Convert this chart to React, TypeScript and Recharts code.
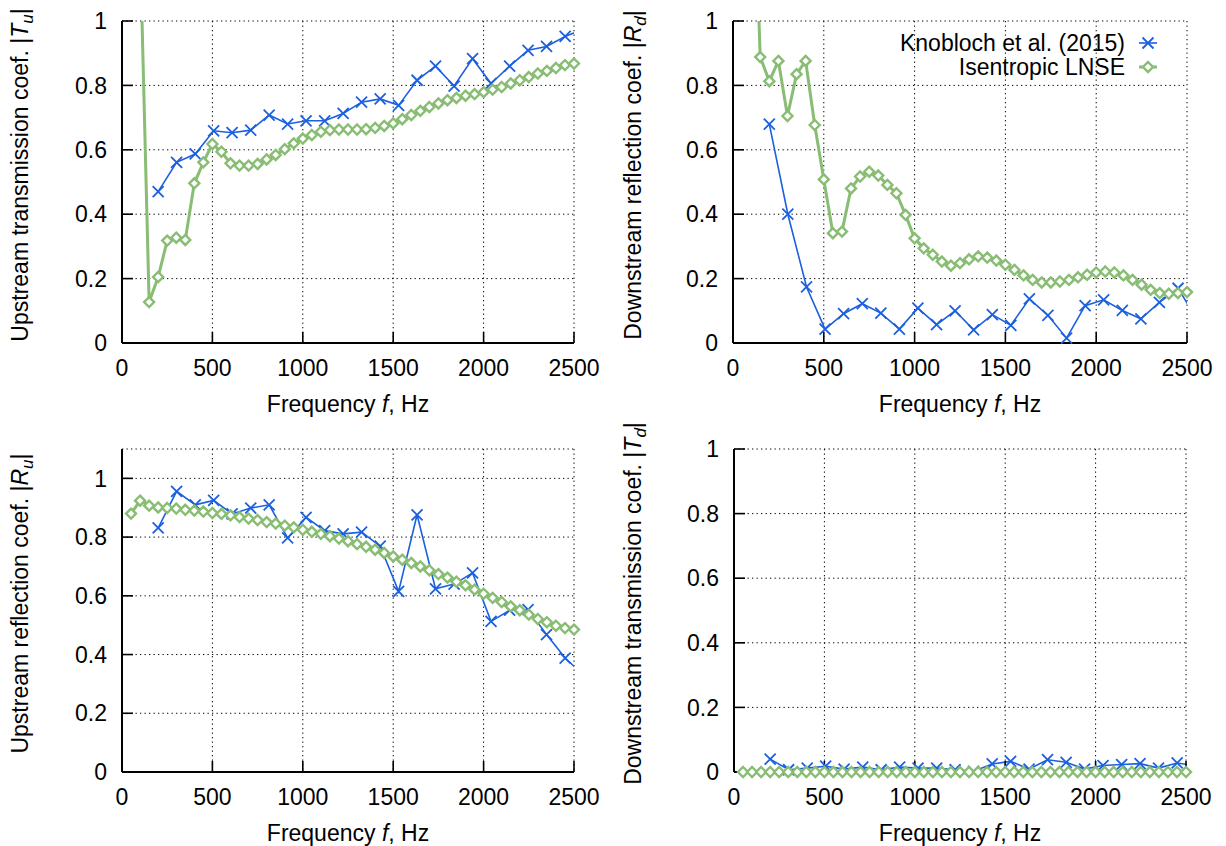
import React from 'react';
import { LineChart, Line, XAxis, YAxis, CartesianGrid, Legend } from 'recharts';

// LNSE solution, every 50 Hz
const lnseFreq = [
  50, 100, 150, 200, 250, 300, 350, 400, 450, 500,
  550, 600, 650, 700, 750, 800, 850, 900, 950, 1000,
  1050, 1100, 1150, 1200, 1250, 1300, 1350, 1400, 1450, 1500,
  1550, 1600, 1650, 1700, 1750, 1800, 1850, 1900, 1950, 2000,
  2050, 2100, 2150, 2200, 2250, 2300, 2350, 2400, 2450, 2500,
];

// measured frequencies (Knobloch et al. 2015), last one sits past the axis end
const knoblochFreq = [
  200, 302, 405, 507, 609, 712, 814, 916, 1018, 1121, 1223, 1325,
  1428, 1530, 1632, 1734, 1837, 1939, 2041, 2144, 2246, 2348, 2451, 2553,
];

// |T_u|
const tuKnobloch = [
  0.47, 0.561, 0.587, 0.659, 0.653, 0.661, 0.708, 0.68, 0.69, 0.69, 0.713, 0.748,
  0.758, 0.738, 0.816, 0.86, 0.798, 0.883, 0.806, 0.86, 0.909, 0.921, 0.952, 0.975,
];
const tuLnse = [
  1.45, 1.24, 0.127, 0.205, 0.318, 0.327, 0.32, 0.496, 0.561, 0.618,
  0.594, 0.558, 0.551, 0.551, 0.556, 0.57, 0.584, 0.602, 0.62, 0.635,
  0.646, 0.656, 0.661, 0.663, 0.663, 0.663, 0.664, 0.668, 0.674, 0.682,
  0.695, 0.708, 0.721, 0.733, 0.744, 0.754, 0.761, 0.768, 0.773, 0.779,
  0.787, 0.795, 0.806, 0.816, 0.826, 0.837, 0.845, 0.854, 0.863, 0.868,
];

// |R_d|
const rdKnobloch = [
  0.68, 0.4, 0.174, 0.043, 0.091, 0.122, 0.093, 0.043, 0.108, 0.057, 0.1, 0.041,
  0.088, 0.055, 0.137, 0.086, 0.015, 0.116, 0.134, 0.101, 0.075, 0.126, 0.17, 0.075,
];
const rdLnse = [
  1.9, 1.69, 0.888, 0.813, 0.876, 0.705, 0.835, 0.876, 0.677, 0.508,
  0.341, 0.346, 0.48, 0.517, 0.532, 0.52, 0.491, 0.465, 0.398, 0.325,
  0.294, 0.274, 0.253, 0.24, 0.248, 0.26, 0.269, 0.265, 0.256, 0.243,
  0.227, 0.21, 0.196, 0.188, 0.188, 0.191, 0.196, 0.204, 0.212, 0.219,
  0.222, 0.219, 0.21, 0.196, 0.181, 0.165, 0.155, 0.153, 0.155, 0.158,
];

// |R_u|
const ruKnobloch = [
  0.831, 0.956, 0.91, 0.925, 0.879, 0.899, 0.91, 0.797, 0.867, 0.822, 0.811, 0.817,
  0.769, 0.615, 0.876, 0.624, 0.64, 0.678, 0.513, 0.551, 0.553, 0.468, 0.388, 0.33,
];
const ruLnse = [
  0.88, 0.924, 0.907, 0.901, 0.899, 0.897, 0.893, 0.89, 0.887, 0.882,
  0.879, 0.874, 0.868, 0.863, 0.858, 0.851, 0.846, 0.839, 0.833, 0.825,
  0.818, 0.811, 0.803, 0.795, 0.786, 0.776, 0.767, 0.757, 0.746, 0.734,
  0.723, 0.712, 0.7, 0.687, 0.674, 0.662, 0.648, 0.636, 0.621, 0.607,
  0.593, 0.579, 0.564, 0.551, 0.536, 0.521, 0.51, 0.498, 0.49, 0.485,
];

// |T_d|
const tdKnobloch = [
  0.04, 0.007, 0.012, 0.018, 0.009, 0.015, 0.007, 0.015, 0.012, 0.012, 0.007, 0.002,
  0.025, 0.033, 0.009, 0.038, 0.03, 0.009, 0.02, 0.023, 0.026, 0.012, 0.028, 0.02,
];
const tdLnse = [
  0, 0, 0, 0, 0, 0, 0, 0, 0, 0,
  0, 0, 0, 0, 0, 0, 0, 0, 0, 0,
  0, 0, 0, 0, 0, 0, 0, 0, 0, 0,
  0, 0, 0, 0, 0, 0, 0, 0, 0, 0,
  0, 0, 0, 0, 0, 0, 0, 0, 0, 0,
];

const xTicks = [0, 500, 1000, 1500, 2000, 2500];
const yTicks = [0, 0.2, 0.4, 0.6, 0.8, 1];

const BLUE = '#1b60de';
const GREEN = '#88bd73';
const FONT = '"Liberation Sans", Arial, Helvetica, sans-serif';
const F_MAX = 2500;

type Row = { f: number; v: number };
const pair = (fs: number[], vs: number[]): Row[] => fs.map((f, i) => ({ f, v: vs[i] }));

function crossDot(props: any) {
  const { cx, cy, index } = props;
  if (cx == null || cy == null) return <g key={`c-${index}`} />;
  const s = 5.5;
  return (
    <path
      key={`c-${index}`}
      d={`M${cx - s},${cy - s}L${cx + s},${cy + s}M${cx - s},${cy + s}L${cx + s},${cy - s}`}
      stroke={BLUE}
      strokeWidth={1.8}
      fill="none"
    />
  );
}

function diamondDot(props: any) {
  const { cx, cy, index } = props;
  if (cx == null || cy == null) return <g key={`d-${index}`} />;
  const s = 5;
  return (
    <path
      key={`d-${index}`}
      d={`M${cx},${cy - s}L${cx + s},${cy}L${cx},${cy + s}L${cx - s},${cy}Z`}
      stroke={GREEN}
      strokeWidth={2.4}
      fill="#fff"
    />
  );
}

function YTitle(props: any) {
  const { viewBox, text, sym, sub } = props;
  const x = 28;
  const y = viewBox.y + viewBox.height / 2 - 7;
  return (
    <text
      x={x}
      y={y}
      transform={`rotate(-90 ${x} ${y})`}
      textAnchor="middle"
      fontSize={23}
      fill="#000"
      fontFamily={FONT}
    >
      {text} |<tspan fontStyle="italic">{sym}</tspan>
      <tspan fontStyle="italic" fontSize={17} dy={5}>{sub}</tspan>
      <tspan dy={-5}>|</tspan>
    </text>
  );
}

function XTitle(props: any) {
  const { viewBox } = props;
  return (
    <text
      x={viewBox.x + viewBox.width / 2}
      y={viewBox.y + 69}
      textAnchor="middle"
      fontSize={23}
      fill="#000"
      fontFamily={FONT}
    >
      Frequency <tspan fontStyle="italic">f</tspan>, Hz
    </text>
  );
}

function LegendBox() {
  const row = (label: string, kind: 'cross' | 'diamond') => (
    <div
      key={label}
      style={{ display: 'flex', justifyContent: 'flex-end', alignItems: 'center', height: 24 }}
    >
      <span style={{ fontSize: 23, lineHeight: '24px', color: '#000', fontFamily: FONT, whiteSpace: 'nowrap' }}>
        {label}
      </span>
      <svg width={46} height={24} style={{ display: 'block' }}>
        {kind === 'cross' ? (
          <g>
            <line x1={14} y1={12} x2={32} y2={12} stroke={BLUE} strokeWidth={1.6} />
            {crossDot({ cx: 23, cy: 12, index: 'leg' })}
          </g>
        ) : (
          <g>
            <line x1={14} y1={12} x2={32} y2={12} stroke={GREEN} strokeWidth={3} />
            {diamondDot({ cx: 23, cy: 12, index: 'leg' })}
          </g>
        )}
      </svg>
    </div>
  );
  return (
    <div>
      {row('Knobloch et al. (2015)', 'cross')}
      {row('Isentropic LNSE', 'diamond')}
    </div>
  );
}

interface PanelProps {
  left: number;
  top: number;
  axisWidth: number;
  marginTop: number;
  marginRight: number;
  xAxisHeight: number;
  yMax: number;
  knob: number[];
  lnse: number[];
  text: string;
  sym: string;
  sub: string;
  legend?: boolean;
}

function Panel(p: PanelProps) {
  const knobRows = pair(knoblochFreq, p.knob);
  const lnseRows = pair(lnseFreq, p.lnse);
  const inRange = (r: Row) => r.f <= F_MAX && r.v <= p.yMax;
  const axisLine = { stroke: '#000', strokeWidth: 2 };
  const tickLine = { stroke: '#000', strokeWidth: 1.6 };
  const tickFont = { fill: '#000', fontSize: 23, fontFamily: FONT };

  return (
    <div style={{ position: 'absolute', left: p.left, top: p.top }}>
      <LineChart
        width={613}
        height={423}
        margin={{ top: p.marginTop, right: p.marginRight, bottom: 0, left: 0 }}
        style={{ fontFamily: FONT }}
      >
        <CartesianGrid stroke="#000" strokeWidth={1} strokeDasharray="1.3 3.2" />
        <XAxis
          dataKey="f"
          type="number"
          domain={[0, F_MAX]}
          allowDataOverflow
          ticks={xTicks}
          interval={0}
          height={p.xAxisHeight}
          tickSize={-11}
          tickMargin={28}
          axisLine={axisLine}
          tickLine={tickLine}
          tick={tickFont}
          label={<XTitle />}
        />
        <XAxis
          xAxisId="top"
          orientation="top"
          dataKey="f"
          type="number"
          domain={[0, F_MAX]}
          allowDataOverflow
          ticks={xTicks}
          interval={0}
          height={0}
          tickSize={-11}
          axisLine={axisLine}
          tickLine={tickLine}
          tick={() => <g />}
        />
        <XAxis xAxisId="pts" dataKey="f" type="number" domain={[0, F_MAX]} hide />
        <YAxis
          type="number"
          domain={[0, p.yMax]}
          allowDataOverflow
          ticks={yTicks}
          interval={0}
          width={p.axisWidth}
          tickSize={-11}
          tickMargin={26}
          axisLine={axisLine}
          tickLine={tickLine}
          tick={tickFont}
          label={<YTitle text={p.text} sym={p.sym} sub={p.sub} />}
        />
        <YAxis
          yAxisId="right"
          orientation="right"
          type="number"
          domain={[0, p.yMax]}
          allowDataOverflow
          ticks={yTicks}
          interval={0}
          width={0}
          tickSize={-11}
          axisLine={axisLine}
          tickLine={tickLine}
          tick={() => <g />}
        />
        <YAxis yAxisId="pts" type="number" domain={[0, p.yMax]} hide />

        <Line
          data={knobRows}
          dataKey="v"
          name="Knobloch et al. (2015)"
          type="linear"
          stroke={BLUE}
          strokeWidth={1.6}
          dot={false}
          activeDot={false}
          isAnimationActive={false}
        />
        <Line
          data={knobRows.filter(inRange)}
          dataKey="v"
          xAxisId="pts"
          yAxisId="pts"
          type="linear"
          stroke="none"
          dot={crossDot}
          activeDot={false}
          legendType="none"
          isAnimationActive={false}
        />
        <Line
          data={lnseRows}
          dataKey="v"
          name="Isentropic LNSE"
          type="linear"
          stroke={GREEN}
          strokeWidth={3}
          dot={false}
          activeDot={false}
          isAnimationActive={false}
        />
        <Line
          data={lnseRows.filter(inRange)}
          dataKey="v"
          xAxisId="pts"
          yAxisId="pts"
          type="linear"
          stroke="none"
          dot={diamondDot}
          activeDot={false}
          legendType="none"
          isAnimationActive={false}
        />
        {p.legend && (
          <Legend
            layout="vertical"
            align="center"
            verticalAlign="middle"
            content={() => <LegendBox />}
            wrapperStyle={{ left: 0, top: 31, width: 558, height: 48, right: 'auto', bottom: 'auto' }}
          />
        )}
      </LineChart>
    </div>
  );
}

export default function App() {
  return (
    <div
      style={{
        position: 'absolute',
        left: 0,
        top: 0,
        width: 1226,
        height: 846,
        background: '#fff',
        fontFamily: FONT,
      }}
    >
      <Panel
        left={0}
        top={0}
        axisWidth={122}
        marginTop={21}
        marginRight={39}
        xAxisHeight={80}
        yMax={1}
        knob={tuKnobloch}
        lnse={tuLnse}
        text="Upstream transmission coef."
        sym="T"
        sub="u"
      />
      <Panel
        left={613}
        top={0}
        axisWidth={120}
        marginTop={21}
        marginRight={39}
        xAxisHeight={80}
        yMax={1}
        knob={rdKnobloch}
        lnse={rdLnse}
        text="Downstream reflection coef."
        sym="R"
        sub="d"
        legend
      />
      <Panel
        left={0}
        top={423}
        axisWidth={122}
        marginTop={26}
        marginRight={39}
        xAxisHeight={74}
        yMax={1.1}
        knob={ruKnobloch}
        lnse={ruLnse}
        text="Upstream reflection coef."
        sym="R"
        sub="u"
      />
      <Panel
        left={613}
        top={423}
        axisWidth={121}
        marginTop={26}
        marginRight={40}
        xAxisHeight={74}
        yMax={1}
        knob={tdKnobloch}
        lnse={tdLnse}
        text="Downstream transmission coef."
        sym="T"
        sub="d"
      />
    </div>
  );
}
